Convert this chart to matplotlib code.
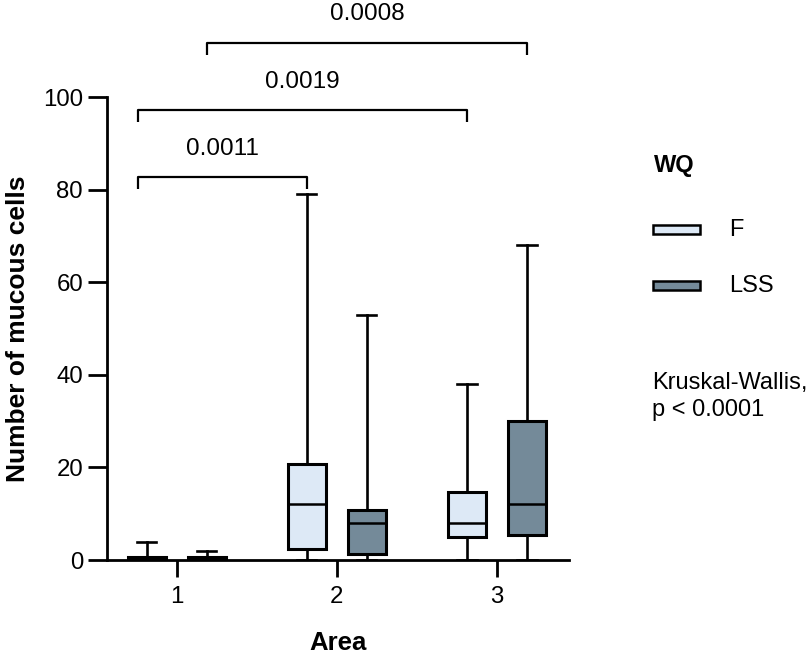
import matplotlib.pyplot as plt
import matplotlib.patches as mpatches

plt.rcParams['font.family'] = ['Liberation Sans', 'DejaVu Sans']

# data
areas = [1, 2, 3]
groups = ['F', 'LSS']
colors = {'F': '#dde9f6', 'LSS': '#748a99'}
# per area: whisker low, q1, median, q3, whisker high
f_low = [0, 0, 0]
f_q1 = [0, 2.3, 5]
f_med = [0, 12, 8]
f_q3 = [0.7, 20.8, 14.6]
f_high = [4, 79, 38]
lss_low = [0, 0, 0]
lss_q1 = [0, 1.3, 5.3]
lss_med = [0, 8, 12]
lss_q3 = [0.7, 10.8, 30]
lss_high = [2, 53, 68]

# comparisons: (x1, x2, y, label)
comp_x1 = [0.76, 0.76, 1.1875]
comp_x2 = [1.8125, 2.8125, 3.1875]
comp_y = [82.8, 97.2, 111.8]
comp_label = ['0.0011', '0.0019', '0.0008']

offset = 0.1875
box_w = 0.24

fig = plt.figure(figsize=(8.11, 6.59), dpi=100)
ax = fig.add_axes([0.1316, 0.1502, 0.570, 0.7022])

series = {
    'F': (f_low, f_q1, f_med, f_q3, f_high, -offset),
    'LSS': (lss_low, lss_q1, lss_med, lss_q3, lss_high, offset),
}
for g in groups:
    low, q1, med, q3, high, dx = series[g]
    stats = []
    for i in range(len(areas)):
        stats.append({'whislo': low[i], 'q1': q1[i], 'med': med[i],
                      'q3': q3[i], 'whishi': high[i], 'fliers': []})
    ax.bxp(stats, positions=[a + dx for a in areas], widths=box_w,
           patch_artist=True, showfliers=False,
           boxprops=dict(facecolor=colors[g], edgecolor='black', linewidth=2.2),
           medianprops=dict(color='black', linewidth=1.8),
           whiskerprops=dict(color='black', linewidth=1.9),
           capprops=dict(color='black', linewidth=1.9),
           capwidths=box_w * 0.5, manage_ticks=False)

ax.set_xlim(0.5625, 3.45)
ax.set_ylim(0, 100)
ax.set_xticks(areas)
ax.set_yticks([0, 20, 40, 60, 80, 100])
ax.spines['top'].set_visible(False)
ax.spines['right'].set_visible(False)
ax.spines['left'].set_linewidth(2.0)
ax.spines['bottom'].set_linewidth(2.0)
ax.tick_params(axis='both', labelsize=17.3, width=2.0)
ax.tick_params(axis='y', length=14, pad=3)
ax.tick_params(axis='x', length=12.5, pad=6)
ax.set_xlabel('Area', fontsize=18.5, fontweight='bold', labelpad=17)
ax.set_ylabel('Number of mucous cells', fontsize=19, fontweight='bold', labelpad=9)

# significance brackets
drop = 2.6
for x1, x2, y, lab in zip(comp_x1, comp_x2, comp_y, comp_label):
    ax.plot([x1, x1, x2, x2], [y - drop, y, y, y - drop], color='black',
            linewidth=1.6, clip_on=False, solid_capstyle='butt')
    ax.text((x1 + x2) / 2, y + 4.8, lab, ha='center', va='baseline',
            fontsize=17.5, clip_on=False)

# legend
W, H = 811, 659
fig.text(654 / W, 1 - 166 / H, 'WQ', fontsize=17, fontweight='bold', va='center', ha='left')
for g, yc in zip(groups, [230, 285]):
    fig.add_artist(mpatches.Rectangle((653 / W, 1 - (yc + 4.5) / H), 47 / W, 9 / H,
                                      facecolor=colors[g], edgecolor='black',
                                      linewidth=1.8, transform=fig.transFigure))
    fig.text(729 / W, 1 - (yc + 0.5) / H, g, fontsize=17, va='center', ha='left')
fig.text(652 / W, 1 - 383 / H, 'Kruskal-Wallis,', fontsize=17, va='center', ha='left')
fig.text(652 / W, 1 - 410 / H, 'p < 0.0001', fontsize=17, va='center', ha='left')

plt.savefig('out.png', dpi=100)
plt.close()
